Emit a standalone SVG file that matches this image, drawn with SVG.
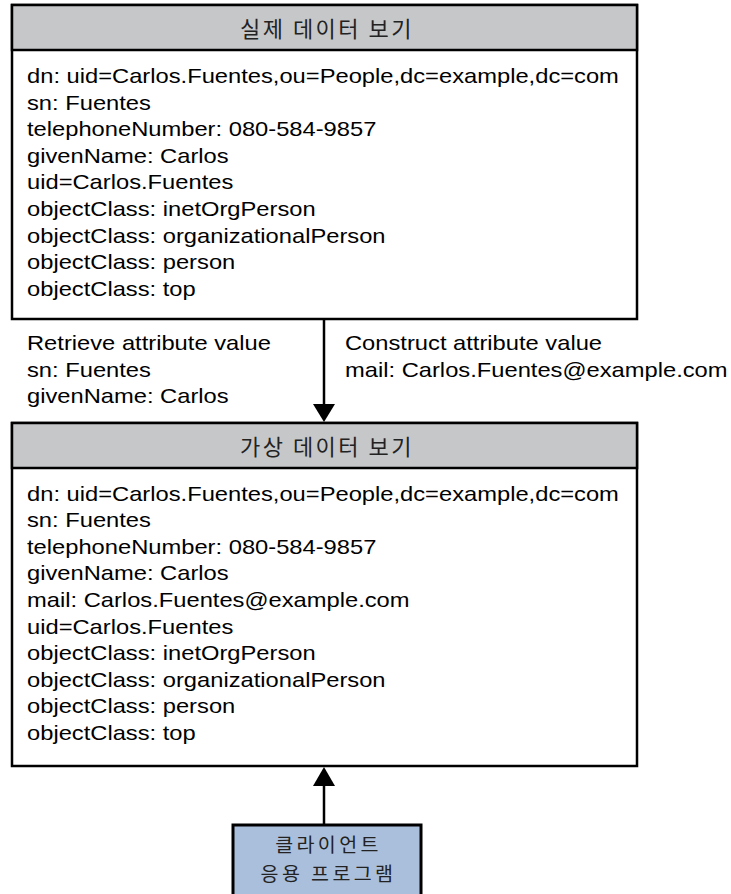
<svg xmlns="http://www.w3.org/2000/svg" width="731" height="894" viewBox="0 0 731 894">
<style>
.box{fill:#ffffff;stroke:#000;stroke-width:2.5}
.hdr{fill:#c6c7c9;stroke:#000;stroke-width:2.5}
.cli{fill:#aabfdb;stroke:#000;stroke-width:3}
.t{font-family:"Liberation Sans",Arial,sans-serif;font-size:21px;fill:#000}
.k{font-family:"Noto Sans CJK KR","Noto Sans",sans-serif;font-size:22px;letter-spacing:2.5px;fill:#222;text-anchor:middle}
.kc{font-family:"Noto Sans CJK KR","Noto Sans",sans-serif;font-size:19.5px;letter-spacing:3.4px;fill:#222;text-anchor:middle}
.ln{stroke:#000;stroke-width:2.5;fill:none}
</style>
<g id="real-view">
<rect class="box" x="12" y="5" width="625" height="314"/>
<rect class="hdr" x="12" y="5" width="625" height="45"/>
<text class="k" x="327" y="37">실제 데이터 보기</text>
<g transform="translate(27,0) scale(1.13,1)">
<text class="t" x="0" y="83">dn: uid=Carlos.Fuentes,ou=People,dc=example,dc=com</text>
<text class="t" x="0" y="109.6">sn: Fuentes</text>
<text class="t" x="0" y="136.2">telephoneNumber: 080-584-9857</text>
<text class="t" x="0" y="162.8">givenName: Carlos</text>
<text class="t" x="0" y="189.4">uid=Carlos.Fuentes</text>
<text class="t" x="0" y="216">objectClass: inetOrgPerson</text>
<text class="t" x="0" y="242.6">objectClass: organizationalPerson</text>
<text class="t" x="0" y="269.2">objectClass: person</text>
<text class="t" x="0" y="295.8">objectClass: top</text>
</g>
</g>
<g id="virtual-view">
<rect class="box" x="12" y="423" width="625" height="343"/>
<rect class="hdr" x="12" y="423" width="625" height="45"/>
<text class="k" x="327" y="455">가상 데이터 보기</text>
<g transform="translate(27,0) scale(1.13,1)">
<text class="t" x="0" y="500.7">dn: uid=Carlos.Fuentes,ou=People,dc=example,dc=com</text>
<text class="t" x="0" y="527.3">sn: Fuentes</text>
<text class="t" x="0" y="553.9">telephoneNumber: 080-584-9857</text>
<text class="t" x="0" y="580.5">givenName: Carlos</text>
<text class="t" x="0" y="607.1">mail: Carlos.Fuentes@example.com</text>
<text class="t" x="0" y="633.7">uid=Carlos.Fuentes</text>
<text class="t" x="0" y="660.3">objectClass: inetOrgPerson</text>
<text class="t" x="0" y="686.9">objectClass: organizationalPerson</text>
<text class="t" x="0" y="713.5">objectClass: person</text>
<text class="t" x="0" y="740.1">objectClass: top</text>
</g>
</g>
<g id="client">
<rect class="cli" x="233" y="825" width="188" height="90"/>
<text class="kc" x="328.5" y="852.3">클라이언트</text>
<text class="kc" x="328.5" y="880.8">응용 프로그램</text>
</g>
<g id="connectors">
<line class="ln" x1="324" y1="319" x2="324" y2="405"/>
<polygon points="313,404 335,404 324,422" fill="#000"/>
<line class="ln" x1="324" y1="825" x2="324" y2="785"/>
<polygon points="313,786 335,786 324,767" fill="#000"/>
<g transform="translate(27,0) scale(1.13,1)">
<text class="t" x="0" y="350">Retrieve attribute value</text>
<text class="t" x="0" y="376.6">sn: Fuentes</text>
<text class="t" x="0" y="403.2">givenName: Carlos</text>
</g>
<g transform="translate(345,0) scale(1.13,1)">
<text class="t" x="0" y="350">Construct attribute value</text>
<text class="t" x="0" y="376.6">mail: Carlos.Fuentes@example.com</text>
</g>
</g>
</svg>
